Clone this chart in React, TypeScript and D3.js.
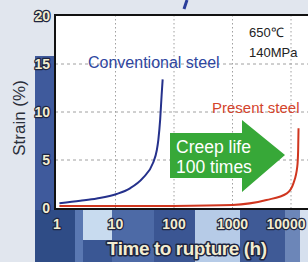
import React from 'react'
import * as d3 from 'd3'

// creep curves (hours, strain %)
const convHours = [1.1, 2.5, 4.8, 10.5, 17.7, 29.5, 43.7, 50.9, 54, 58, 61.5, 64]
const convStrain = [0.5, 0.76, 1.0, 1.46, 2.05, 3.13, 4.69, 6.04, 7.1, 9.2, 11.8, 13.4]
const presHours = [1.1, 10, 100, 1000, 3800, 8500, 11000, 12800, 13250, 13450]
const presStrain = [0.2, 0.2, 0.22, 0.32, 0.83, 1.53, 2.57, 4.3, 6.0, 8.3]

const xTicks = [1, 10, 100, 1000, 10000]
const xTickLabels = ['1', '10', '100', '1000', '10000']
const yTicks = [0, 5, 10, 15, 20]
const xGrid = [10, 100, 1000, 10000]
const yGrid = [5, 10, 15]

const W = 308
const H = 262
const left = 55
const top = 15
const bottom = 209

const font = 'Liberation Sans, Arial, sans-serif'

// background photo blocks behind the chart
const bgBlocks = [
  { x: 35, y: 56, w: 20, h: 206, c: '#3f5a9c' },
  { x: 35, y: 210, w: 40, h: 52, c: '#2f4c86' },
  { x: 75, y: 210, w: 8, h: 52, c: '#5a78b2' },
  { x: 83, y: 210, w: 29, h: 30, c: '#c8dbef' },
  { x: 83, y: 240, w: 29, h: 22, c: '#3a5794' },
  { x: 112, y: 210, w: 42, h: 52, c: '#4d6aa6' },
  { x: 154, y: 210, w: 41, h: 52, c: '#3b5693' },
  { x: 195, y: 210, w: 45, h: 52, c: '#b6cbe7' },
  { x: 240, y: 210, w: 45, h: 52, c: '#3f5a96' },
  { x: 285, y: 210, w: 15, h: 52, c: '#6c86b8' },
  { x: 300, y: 210, w: 8, h: 52, c: '#d6e0ee' },
]

const outline = {
  fill: '#f2ecd0',
  stroke: '#1e2540',
  strokeWidth: 2.4,
  paintOrder: 'stroke' as const,
  strokeLinejoin: 'round' as const,
}

const App = () => {
  const x = d3.scaleLog().domain([1, 10000]).range([57, 291])
  const y = d3.scaleLinear().domain([0, 20]).range([208, 16])

  const line = d3
    .line<[number, number]>()
    .x(d => x(d[0]))
    .y(d => y(d[1]))
    .curve(d3.curveMonotoneX)

  const conv = line(convHours.map((h, i) => [h, convStrain[i]]))
  const pres = line(presHours.map((h, i) => [h, presStrain[i]]))

  // arrow annotation
  const ax0 = 170
  const ax1 = 242
  const tip = 285
  const ay = 155
  const arrow = [
    [ax0, 133],
    [ax1, 133],
    [ax1, 120],
    [tip, ay],
    [ax1, 192],
    [ax1, 178],
    [ax0, 178],
  ]
    .map(p => p.join(','))
    .join(' ')

  return (
    <svg
      width={W}
      height={H}
      style={{ position: 'absolute', left: 0, top: 0 }}
      fontFamily={font}
    >
      <rect width={W} height={H} fill="#e1e6ee" />
      {bgBlocks.map((b, i) => (
        <rect key={i} x={b.x} y={b.y} width={b.w} height={b.h} fill={b.c} />
      ))}
      <rect x={left} y={top} width={W - left} height={bottom - top} fill="#fff" />

      {/* title fragment peeking above the frame */}
      <path d="M187,0 L184,9" stroke="#2b3e9a" strokeWidth={3} />

      {xGrid.map(t => (
        <line
          key={t}
          x1={x(t)}
          x2={x(t)}
          y1={top}
          y2={bottom}
          stroke="#a0a0a0"
          strokeDasharray="1.5,2.5"
        />
      ))}
      {yGrid.map(t => (
        <line
          key={t}
          x1={left}
          x2={W}
          y1={y(t)}
          y2={y(t)}
          stroke="#a0a0a0"
          strokeDasharray="3,3"
        />
      ))}

      <polygon points={arrow} fill="#37a838" />
      <text x={176} y={153} fill="#fff" fontSize={17.5}>
        Creep life
      </text>
      <text x={176} y={173} fill="#fff" fontSize={17.5}>
        100 times
      </text>

      <path d={conv || ''} fill="none" stroke="#25318c" strokeWidth={2} />
      <path d={pres || ''} fill="none" stroke="#d0361f" strokeWidth={2} />

      <text x={88} y={68} fill="#2e46a0" fontSize={16}>
        Conventional steel
      </text>
      <text x={212} y={113} fill="#d4442c" fontSize={15}>
        Present steel
      </text>
      <text x={249} y={37} fill="#222" fontSize={13}>
        650℃
      </text>
      <text x={249} y={57} fill="#222" fontSize={13}>
        140MPa
      </text>

      {/* frame */}
      <line x1={left} x2={W} y1={top} y2={top} stroke="#111" strokeWidth={2} />
      <line x1={left} x2={left} y1={top - 1} y2={bottom + 1} stroke="#111" strokeWidth={2} />
      <line x1={left} x2={W} y1={bottom} y2={bottom} stroke="#111" strokeWidth={2} />

      {yTicks.map(t => (
        <text
          key={t}
          x={50}
          y={y(t)}
          dy="0.36em"
          textAnchor="end"
          fontSize={14}
          fontWeight="bold"
          {...outline}
        >
          {t}
        </text>
      ))}
      {xTicks.map((t, i) => (
        <text
          key={t}
          x={Math.min(x(t), 286)}
          y={229}
          textAnchor="middle"
          fontSize={14}
          fontWeight="bold"
          {...outline}
        >
          {xTickLabels[i]}
        </text>
      ))}

      <text
        x={187}
        y={255}
        textAnchor="middle"
        fontSize={19}
        fontWeight="bold"
        textLength={160}
        {...outline}
        strokeWidth={3}
      >
        Time to rupture (h)
      </text>
      <text
        transform="translate(25,118) rotate(-90)"
        textAnchor="middle"
        fontSize={17}
        fill="#2a2f3a"
      >
        Strain (%)
      </text>
    </svg>
  )
}

export default App
